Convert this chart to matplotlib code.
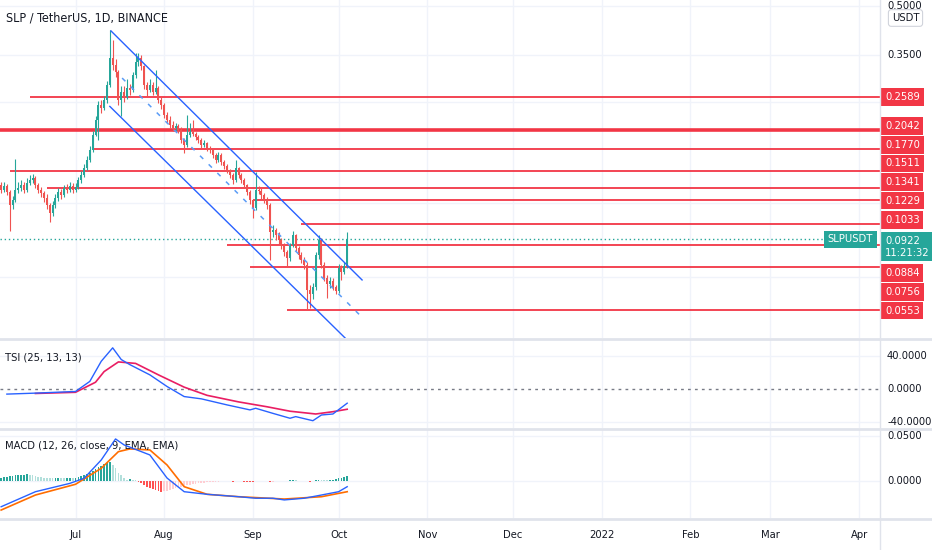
import datetime as dt
import matplotlib
matplotlib.use("Agg")
import matplotlib.pyplot as plt
import matplotlib.dates as mdates
from matplotlib.lines import Line2D

plt.rcParams['font.family'] = ['DejaVu Sans']
plt.rcParams['font.stretch'] = 'condensed'

# daily candles, first one on 2021-06-05
start = dt.date(2021, 6, 5)
first_open = 0.1369
closes = [0.1320, 0.1359, 0.1301, 0.1184, 0.1228, 0.1320, 0.1339, 0.1369, 0.1320, 0.1388,
          0.1419, 0.1439, 0.1369, 0.1320, 0.1292, 0.1246, 0.1184, 0.1117, 0.1184, 0.1246,
          0.1301, 0.1273, 0.1339, 0.1320, 0.1359, 0.1320, 0.1349, 0.1419, 0.1471, 0.1548,
          0.1640, 0.1763, 0.1969, 0.2192, 0.2443, 0.2390, 0.2533, 0.2826, 0.3436, 0.3260,
          0.3104, 0.2533, 0.2688, 0.2589, 0.2766, 0.2720, 0.3038, 0.3333, 0.3436, 0.3240,
          0.2826, 0.2720, 0.2826, 0.2688, 0.2766, 0.2533, 0.2443, 0.2273, 0.2192, 0.2114,
          0.2069, 0.2099, 0.2042, 0.1896, 0.1828, 0.1969, 0.2012, 0.1983, 0.1941, 0.1896,
          0.1828, 0.1855, 0.1789, 0.1763, 0.1700, 0.1640, 0.1700, 0.1616, 0.1571, 0.1525,
          0.1471, 0.1419, 0.1548, 0.1471, 0.1419, 0.1369, 0.1301, 0.1228, 0.1158, 0.1320,
          0.1310, 0.1273, 0.1228, 0.1184, 0.0974, 0.0988, 0.0953, 0.0919, 0.0880, 0.0842,
          0.0806, 0.0887, 0.0953, 0.0867, 0.0824, 0.0795, 0.0767, 0.0639, 0.0621, 0.0651,
          0.0824, 0.0919, 0.0767, 0.0698, 0.0665, 0.0684, 0.0651, 0.0634, 0.0750, 0.0729,
          0.0761, 0.0922]
highs = [0.1400, 0.1400, 0.1380, 0.1320, 0.1260, 0.1650, 0.1400, 0.1420, 0.1400, 0.1440,
         0.1470, 0.1480, 0.1460, 0.1390, 0.1350, 0.1310, 0.1280, 0.1200, 0.1220, 0.1280,
         0.1340, 0.1330, 0.1370, 0.1380, 0.1400, 0.1390, 0.1390, 0.1450, 0.1510, 0.1590,
         0.1690, 0.1820, 0.2030, 0.2260, 0.2520, 0.2530, 0.2600, 0.2900, 0.4200, 0.3910,
         0.3400, 0.3150, 0.2800, 0.2800, 0.2950, 0.2850, 0.3100, 0.3560, 0.3560, 0.3500,
         0.3260, 0.2880, 0.2950, 0.2880, 0.3150, 0.2800, 0.2580, 0.2480, 0.2320, 0.2250,
         0.2170, 0.2150, 0.2130, 0.2080, 0.1920, 0.2270, 0.2150, 0.2190, 0.2010, 0.1970,
         0.1920, 0.1890, 0.1870, 0.1810, 0.1780, 0.1720, 0.1740, 0.1720, 0.1640, 0.1590,
         0.1540, 0.1490, 0.1640, 0.1560, 0.1490, 0.1440, 0.1380, 0.1320, 0.1240, 0.1500,
         0.1360, 0.1340, 0.1290, 0.1250, 0.1200, 0.1020, 0.1000, 0.0970, 0.0930, 0.0895,
         0.0855, 0.0900, 0.0980, 0.0960, 0.0880, 0.0840, 0.0810, 0.0780, 0.0660, 0.0670,
         0.0840, 0.0953, 0.0930, 0.0785, 0.0710, 0.0700, 0.0695, 0.0660, 0.0770, 0.0765,
         0.0780, 0.0974]
lows = [0.1290, 0.1300, 0.1270, 0.0980, 0.1150, 0.1210, 0.1290, 0.1310, 0.1290, 0.1300,
        0.1370, 0.1390, 0.1340, 0.1290, 0.1250, 0.1210, 0.1150, 0.1045, 0.1090, 0.1160,
        0.1220, 0.1240, 0.1250, 0.1290, 0.1300, 0.1290, 0.1300, 0.1330, 0.1390, 0.1450,
        0.1520, 0.1620, 0.1740, 0.1950, 0.1900, 0.2300, 0.2350, 0.2480, 0.2780, 0.3150,
        0.3000, 0.2450, 0.2250, 0.2500, 0.2550, 0.2620, 0.2680, 0.2980, 0.3250, 0.3150,
        0.2750, 0.2600, 0.2680, 0.2620, 0.2650, 0.2480, 0.2380, 0.2230, 0.2140, 0.2070,
        0.2020, 0.2030, 0.1990, 0.1850, 0.1725, 0.1800, 0.1930, 0.1950, 0.1900, 0.1860,
        0.1790, 0.1800, 0.1750, 0.1720, 0.1660, 0.1600, 0.1610, 0.1580, 0.1540, 0.1490,
        0.1440, 0.1380, 0.1400, 0.1440, 0.1390, 0.1340, 0.1270, 0.1190, 0.1078, 0.1140,
        0.1280, 0.1240, 0.1200, 0.1150, 0.0795, 0.0940, 0.0920, 0.0890, 0.0860, 0.0820,
        0.0756, 0.0790, 0.0870, 0.0850, 0.0800, 0.0775, 0.0745, 0.0553, 0.0560, 0.0600,
        0.0640, 0.0800, 0.0750, 0.0680, 0.0604, 0.0650, 0.0640, 0.0620, 0.0625, 0.0687,
        0.0715, 0.0750]

# drawn levels (price, first day index)
level_prices = [0.2589, 0.2042, 0.1770, 0.1511, 0.1341, 0.1229, 0.1033, 0.0884, 0.0756, 0.0553]
level_start = [10, -2, 32, 3, 16, 88, 105, 79, 87, 100]
last_price = 0.0922
countdown = "11:21:32"

# channel (day index, price)
upper_days, upper_prices = [38.4, 126.2], [0.418, 0.0687]
lower_days, lower_prices = [38.0, 124.0], [0.2418, 0.0418]
mid_days, mid_prices = [42.3, 126.2], [0.297, 0.0524]

# TSI
tsi_days = [2, 12, 26, 31, 35, 39, 42, 45, 52, 58, 64, 70, 79, 87, 89, 95, 101, 103, 109, 112, 116, 121]
tsi_vals = [-6.5, -5.3, -3.3, 9, 33.6, 50, 35.7, 29.5, 17, 2.8, -9.5, -12.3, -19.7, -25.8, -23.8,
            -30, -36, -34, -39, -32, -30.8, -17.6]
tsi_sig_days = [12, 26, 33, 36, 41, 47, 55, 64, 72, 83, 93, 101, 110, 116, 121]
tsi_sig_vals = [-5.7, -4.3, 8, 21, 32.8, 31, 17, 2, -8, -16, -22, -27.4, -30.8, -28, -25]

# MACD
macd_days = [0, 12, 24, 29, 35, 40, 43, 52, 58, 64, 72, 83, 89, 95, 99, 106, 112, 118, 121]
macd_vals = [-0.0291, -0.0123, -0.0030, 0.0027, 0.0232, 0.0467, 0.0400, 0.0288, 0.0030, -0.0123,
             -0.0152, -0.0179, -0.0196, -0.0196, -0.0215, -0.0196, -0.0160, -0.0123, -0.0067]
signal_days = [0, 12, 26, 35, 41, 45, 52, 58, 64, 72, 83, 99, 112, 121]
signal_vals = [-0.0328, -0.0160, -0.0040, 0.0139, 0.0325, 0.0355, 0.0344, 0.0176, -0.0067,
               -0.0152, -0.0179, -0.0205, -0.0179, -0.0123]
hist = [0.0035, 0.0040, 0.0045, 0.0050, 0.0055, 0.0060, 0.0062, 0.0065, 0.0068, 0.0070,
        0.0066, 0.0060, 0.0050, 0.0045, 0.0040, 0.0035, 0.0030, 0.0028, 0.0027, 0.0030,
        0.0032, 0.0030, 0.0028, 0.0030, 0.0032, 0.0030, 0.0035, 0.0040, 0.0050, 0.0060,
        0.0075, 0.0090, 0.0110, 0.0130, 0.0150, 0.0170, 0.0185, 0.0200, 0.0210, 0.0180,
        0.0140, 0.0090, 0.0060, 0.0030, 0.0010, 0.0015, 0.0010, 0.0008, -0.0010, -0.0030,
        -0.0050, -0.0070, -0.0080, -0.0095, -0.0105, -0.0115, -0.0123, -0.0120, -0.0112, -0.0105,
        -0.0095, -0.0085, -0.0075, -0.0068, -0.0060, -0.0052, -0.0045, -0.0040, -0.0035, -0.0030,
        -0.0027, -0.0024, -0.0020, -0.0018, -0.0015, -0.0013, -0.0010, -0.0008, -0.0006, -0.0005,
        -0.0007, -0.0009, -0.0004, -0.0006, -0.0008, -0.0010, -0.0012, -0.0013, -0.0014, -0.0008,
        -0.0006, -0.0005, -0.0006, -0.0007, -0.0012, -0.0010, -0.0008, -0.0006, -0.0004, -0.0003,
        -0.0002, 0.0003, 0.0006, 0.0004, 0.0002, 0.0001, -0.0002, -0.0008, -0.0009, -0.0006,
        0.0005, 0.0012, 0.0008, 0.0005, 0.0004, 0.0008, 0.0012, 0.0018, 0.0028, 0.0032,
        0.0040, 0.0056]

months = [dt.date(2021, 7, 1), dt.date(2021, 8, 1), dt.date(2021, 9, 1), dt.date(2021, 10, 1),
          dt.date(2021, 11, 1), dt.date(2021, 12, 1), dt.date(2022, 1, 1), dt.date(2022, 2, 1),
          dt.date(2022, 3, 1), dt.date(2022, 4, 1)]
month_labels = ['Jul', 'Aug', 'Sep', 'Oct', 'Nov', 'Dec', '2022', 'Feb', 'Mar', 'Apr']

UP, DOWN = '#26a69a', '#ef5350'
LEVEL = '#f23645'
BLUE = '#2962ff'
TXT = '#131722'
GRID = '#f0f3fa'
SEP = '#e0e3eb'
FS = 8


def day(i):
    return mdates.date2num(start) + i


x = [day(i) for i in range(len(closes))]
opens = [first_open] + closes[:-1]
xmin, xmax = day(-0.4), day(307.3)

W, H = 932, 550
fig = plt.figure(figsize=(W / 100, H / 100), dpi=100)
ax1 = fig.add_axes([0, 1 - 338 / H, 880 / W, 338 / H])
ax2 = fig.add_axes([0, 1 - 428 / H, 880 / W, 89 / H])
ax3 = fig.add_axes([0, 1 - 518 / H, 880 / W, 88 / H])

for ax in (ax1, ax2, ax3):
    ax.set_xlim(xmin, xmax)
    for s in ax.spines.values():
        s.set_visible(False)
    ax.set_yticks([])
    for m in months:
        ax.axvline(mdates.date2num(m), color=GRID, lw=1, zorder=0)
    ax.tick_params(axis='x', length=0)

ax1.set_xticks([])
ax2.set_xticks([])
ax3.set_xticks(mdates.date2num(months))
ax3.set_xticklabels(month_labels)
ax3.tick_params(axis='x', pad=9, labelsize=FS, colors=TXT)

# ---- price panel
ax1.set_yscale('log')
ax1.set_ylim(0.0451, 0.523)
ax1.minorticks_off()
ax1.set_yticks([])
for g in [0.5, 0.35, 0.25, 0.12, 0.07]:
    ax1.axhline(g, color=GRID, lw=1, zorder=0)

for xi, o, h, l, c in zip(x, opens, highs, lows, closes):
    col = UP if c >= o else DOWN
    ax1.vlines(xi, l, h, color=col, lw=0.8, zorder=3)
    ax1.bar(xi, abs(c - o) if abs(c - o) > 0 else o * 0.003, width=0.7,
            bottom=min(o, c), color=col, zorder=4)

for p, s in zip(level_prices, level_start):
    ax1.hlines(p, day(s), xmax, color=LEVEL, lw=2.6 if p == 0.2042 else 1.3, zorder=2)

ax1.plot([day(d) for d in upper_days], upper_prices, color=BLUE, lw=1, zorder=5)
ax1.plot([day(d) for d in lower_days], lower_prices, color=BLUE, lw=1, zorder=5)
ax1.plot([day(d) for d in mid_days], mid_prices, color='#5b9cf6', lw=1.1,
         ls=(0, (3, 5)), zorder=5)

ax1.axhline(last_price, xmax=835 / 880, color=UP, lw=1, ls=(0, (1, 2)), zorder=2)

ax1.text(6 / 880, 1 - 18 / 338, 'SLP / TetherUS, 1D, BINANCE', transform=ax1.transAxes,
         fontsize=9, color=TXT, va='center')

# right scale
tr1 = ax1.get_yaxis_transform()
for v, lab in [(0.5, '0.5000'), (0.35, '0.3500')]:
    ax1.text(1.008, v, lab, transform=tr1, fontsize=FS, color=TXT, va='center', clip_on=False)

# stacked level labels (pixel rows on the price scale)
label_rows = [97, 126, 145, 163.5, 182, 200.5, 220, 273, 292, 310.5]
for p, row in zip(level_prices, label_rows):
    ax1.text(1.0057, 1 - row / 338, f'{p:.4f}', transform=ax1.transAxes, fontsize=FS,
             color='white', va='center', ha='left', clip_on=False,
             bbox=dict(boxstyle='square,pad=0.33', fc=LEVEL, ec='none'))
ax1.text(1.0057, 1 - 246.5 / 338, f'{last_price:.4f}\n{countdown}', transform=ax1.transAxes,
         fontsize=FS, color='white', va='center', ha='left', linespacing=1.25, clip_on=False,
         bbox=dict(boxstyle='square,pad=0.33', fc=UP, ec='none'))
ax1.text(873 / 880, 1 - 239.5 / 338, 'SLPUSDT', transform=ax1.transAxes, fontsize=FS,
         color='white', va='center', ha='right',
         bbox=dict(boxstyle='square,pad=0.33', fc=UP, ec='none'))

# ---- TSI panel
ax2.set_ylim(-47.9, 60.8)
ax2.axhline(40, color=GRID, lw=1, zorder=0)
ax2.axhline(-40, color=GRID, lw=1, zorder=0)
ax2.axhline(0, color='#787b86', lw=1, ls=(0, (2, 3)), zorder=1)
ax2.plot([day(d) for d in tsi_days], tsi_vals, color=BLUE, lw=1, zorder=3)
ax2.plot([day(d) for d in tsi_sig_days], tsi_sig_vals, color='#e91e63', lw=1.2, zorder=2)
ax2.text(5 / 880, 1 - 18 / 89, 'TSI (25, 13, 13)', transform=ax2.transAxes,
         fontsize=FS, color=TXT, va='center')
tr2 = ax2.get_yaxis_transform()
for v, lab in [(40, '40.0000'), (0, '0.0000'), (-40, '-40.0000')]:
    ax2.text(1.008, v, lab, transform=tr2, fontsize=FS, color=TXT, va='center', clip_on=False)

# ---- MACD panel
ax3.set_ylim(-0.0417, 0.0567)
ax3.axhline(0.05, color=GRID, lw=1, zorder=0)
ax3.axhline(0, color=GRID, lw=1, zorder=0)
hcols = []
for i, hv in enumerate(hist):
    prev = hist[i - 1] if i > 0 else hv
    if hv >= 0:
        hcols.append('#26a69a' if hv >= prev else '#b2dfdb')
    else:
        hcols.append('#ffcdd2' if hv >= prev else '#ff5252')
ax3.bar(x, hist, width=0.6, color=hcols, zorder=2)
ax3.plot([day(d) for d in macd_days], macd_vals, color=BLUE, lw=1, zorder=4)
ax3.plot([day(d) for d in signal_days], signal_vals, color='#ff6d00', lw=1.2, zorder=3)
ax3.text(5 / 880, 1 - 16 / 88, 'MACD (12, 26, close, 9, EMA, EMA)', transform=ax3.transAxes,
         fontsize=FS, color=TXT, va='center')
tr3 = ax3.get_yaxis_transform()
for v, lab in [(0.05, '0.0500'), (0, '0.0000')]:
    ax3.text(1.008, v, lab, transform=tr3, fontsize=FS, color=TXT, va='center', clip_on=False)

# separators and price-scale border
for ypx in [339, 429, 519]:
    fig.add_artist(Line2D([0, 1], [1 - ypx / H] * 2, transform=fig.transFigure, color=SEP, lw=2))
fig.add_artist(Line2D([880 / W] * 2, [0, 1], transform=fig.transFigure, color=SEP, lw=1))

fig.text(905.5 / W, 1 - 18 / H, 'USDT', ha='center', va='center', fontsize=FS, color=TXT,
         bbox=dict(boxstyle='round,pad=0.3,rounding_size=0.25', fc='white', ec='#d1d4dc', lw=0.8))

fig.savefig('out.png', dpi=100)
